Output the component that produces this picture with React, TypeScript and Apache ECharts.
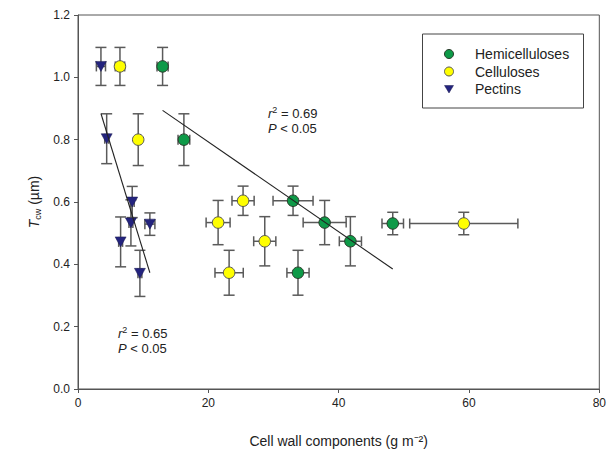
import { useEffect, useRef } from 'react';
import * as echarts from 'echarts';

const seriesNames = ['Hemicelluloses', 'Celluloses', 'Pectins'];
const seriesColors = ['#0e9a48', '#ffff00', '#23237e'];
const seriesBorders = ['#2a3a2a', '#555555', '#1a1a50'];

const hemiX = [12.98, 16.25, 33.0, 37.85, 41.8, 33.76, 48.3];
const hemiY = [1.035, 0.8, 0.604, 0.534, 0.474, 0.373, 0.531];
const hemiXErr = [0.85, 0.9, 3.07, 3.3, 1.7, 1.7, 1.65];
const hemiYErr = [0.061, 0.083, 0.047, 0.071, 0.079, 0.072, 0.036];

const celluX = [6.44, 9.24, 25.33, 21.5, 28.66, 23.19, 59.2];
const celluY = [1.035, 0.8, 0.604, 0.534, 0.474, 0.373, 0.531];
const celluXErr = [0.72, 0.3, 1.7, 1.84, 1.7, 2.17, 8.3];
const celluYErr = [0.061, 0.083, 0.047, 0.071, 0.079, 0.072, 0.036];

const pectX = [3.52, 4.4, 8.32, 8.12, 11.03, 6.54, 9.5];
const pectY = [1.035, 0.803, 0.6, 0.533, 0.529, 0.472, 0.371];
const pectXErr = [0.7, 0.3, 0.3, 0.3, 0.77, 0.3, 0.3];
const pectYErr = [0.061, 0.08, 0.05, 0.074, 0.036, 0.08, 0.074];

const hemiFitX = [12.98, 48.3];
const hemiFitY = [0.894, 0.385];
const pectFitX = [3.52, 11.03];
const pectFitY = [0.884, 0.373];

const hemiStats = ['0.69', '0.05'];
const pectStats = ['0.65', '0.05'];

const xTicks = { min: 0, max: 80, interval: 20 };
const yTicks = { min: 0, max: 1.2, interval: 0.2 };

const FONT = 'Liberation Sans, Arial, sans-serif';

const zip = (a: number[], b: number[]) => a.map((v, i) => [v, b[i]]);
const zip4 = (a: number[], b: number[], c: number[], d: number[]) =>
  a.map((v, i) => [v, b[i], c[i], d[i]]);

const errRender = (_params: any, api: any) => {
  const x = api.value(0);
  const y = api.value(1);
  const ex = api.value(2);
  const ey = api.value(3);
  const c = api.coord([x, y]);
  const top = api.coord([x, y + ey]);
  const bot = api.coord([x, y - ey]);
  const left = api.coord([x - ex, y]);
  const right = api.coord([x + ex, y]);
  const cw = 5.5;
  const ch = 5;
  const style = { stroke: '#5a5a5a', lineWidth: 1.5 };
  return {
    type: 'group',
    children: [
      { type: 'line', shape: { x1: c[0], y1: top[1], x2: c[0], y2: bot[1] }, style },
      { type: 'line', shape: { x1: c[0] - cw, y1: top[1], x2: c[0] + cw, y2: top[1] }, style },
      { type: 'line', shape: { x1: c[0] - cw, y1: bot[1], x2: c[0] + cw, y2: bot[1] }, style },
      { type: 'line', shape: { x1: left[0], y1: c[1], x2: right[0], y2: c[1] }, style },
      { type: 'line', shape: { x1: left[0], y1: c[1] - ch, x2: left[0], y2: c[1] + ch }, style },
      { type: 'line', shape: { x1: right[0], y1: c[1] - ch, x2: right[0], y2: c[1] + ch }, style },
    ],
  };
};

const errSeries = (name: string, data: number[][]) => ({
  type: 'custom',
  name: name + ' err',
  renderItem: errRender,
  data,
  encode: { x: 0, y: 1 },
  z: 1,
  silent: true,
});

const richAnno = {
  i: { fontStyle: 'italic', fontSize: 13, fontFamily: FONT, color: '#222' },
  sup: { fontSize: 9, fontFamily: FONT, color: '#222', padding: [0, 0, 7, 0] },
};

const annoText = (x: number, y: number, text: string) => ({
  type: 'text',
  x,
  y,
  style: {
    text,
    fontSize: 13,
    fontFamily: FONT,
    fill: '#222',
    verticalAlign: 'middle',
    rich: richAnno,
  },
});

const legendRowY = [54, 71.5, 89];

export default function App() {
  const ref = useRef<HTMLDivElement>(null);
  useEffect(() => {
    document.body.style.margin = '0';
    const chart = echarts.init(ref.current!, null, { renderer: 'svg' });
    const lx = 449;
    const legendGraphics: any[] = [
      {
        type: 'rect',
        shape: { x: 422.5, y: 34, width: 161, height: 74 },
        style: { fill: '#fff', stroke: '#444', lineWidth: 1 },
        z: 10,
      },
      {
        type: 'circle',
        shape: { cx: lx, cy: legendRowY[0], r: 4.5 },
        style: { fill: seriesColors[0], stroke: seriesBorders[0], lineWidth: 1 },
        z: 11,
      },
      {
        type: 'circle',
        shape: { cx: lx, cy: legendRowY[1], r: 4.5 },
        style: { fill: seriesColors[1], stroke: seriesBorders[1], lineWidth: 1 },
        z: 11,
      },
      {
        type: 'polygon',
        shape: {
          points: [
            [lx - 4.5, legendRowY[2] - 3.5],
            [lx + 4.5, legendRowY[2] - 3.5],
            [lx, legendRowY[2] + 4],
          ],
        },
        style: { fill: seriesColors[2], stroke: seriesBorders[2], lineWidth: 0.5 },
        z: 11,
      },
      ...seriesNames.map((n, i) => ({
        type: 'text',
        x: 475,
        y: legendRowY[i],
        style: {
          text: n,
          fontSize: 14,
          fontFamily: FONT,
          fill: '#222',
          verticalAlign: 'middle',
        },
        z: 11,
      })),
    ];
    const option: any = {
      animation: false,
      backgroundColor: '#ffffff',
      textStyle: { fontFamily: FONT },
      grid: {
        left: 78,
        right: 9,
        top: 15,
        bottom: 64,
        show: true,
        borderColor: '#555',
        borderWidth: 1,
      },
      xAxis: {
        type: 'value',
        ...xTicks,
        name: 'Cell wall components (g m⁻²)',
        nameLocation: 'middle',
        nameGap: 45,
        nameTextStyle: { fontSize: 14, color: '#222', fontFamily: FONT },
        axisLine: { show: true, lineStyle: { color: '#555', width: 1 } },
        axisTick: { show: true, inside: false, length: 4, lineStyle: { color: '#555' } },
        axisLabel: { fontSize: 12, color: '#222', margin: 8, fontFamily: FONT },
        splitLine: { show: false },
      },
      yAxis: {
        type: 'value',
        ...yTicks,
        name: '{i|T}{s|cw} (µm)',
        nameLocation: 'middle',
        nameGap: 36,
        nameTextStyle: {
          fontSize: 14,
          color: '#222',
          fontFamily: FONT,
          rich: {
            i: { fontStyle: 'italic', fontSize: 14, color: '#222', fontFamily: FONT },
            s: { fontSize: 9, color: '#222', fontFamily: FONT, padding: [7, 0, 0, 0] },
          },
        },
        axisLine: { show: true, lineStyle: { color: '#555', width: 1 } },
        axisTick: { show: true, inside: false, length: 4, lineStyle: { color: '#555' } },
        axisLabel: {
          fontSize: 12,
          color: '#222',
          margin: 8,
          fontFamily: FONT,
          formatter: (v: number) => v.toFixed(1),
        },
        splitLine: { show: false },
      },
      graphic: [
        annoText(268, 113, `{i|r}{sup|2} = ${hemiStats[0]}`),
        annoText(268, 128, `{i|P} < ${hemiStats[1]}`),
        annoText(118, 333, `{i|r}{sup|2} = ${pectStats[0]}`),
        annoText(118, 348, `{i|P} < ${pectStats[1]}`),
        ...legendGraphics,
      ],
      series: [
        errSeries(seriesNames[0], zip4(hemiX, hemiY, hemiXErr, hemiYErr)),
        errSeries(seriesNames[1], zip4(celluX, celluY, celluXErr, celluYErr)),
        errSeries(seriesNames[2], zip4(pectX, pectY, pectXErr, pectYErr)),
        {
          type: 'scatter',
          name: seriesNames[0],
          data: zip(hemiX, hemiY),
          symbol: 'circle',
          symbolSize: 11.5,
          itemStyle: { color: seriesColors[0], borderColor: seriesBorders[0], borderWidth: 1, opacity: 1 },
          z: 3,
        },
        {
          type: 'scatter',
          name: seriesNames[1],
          data: zip(celluX, celluY),
          symbol: 'circle',
          symbolSize: 11.5,
          itemStyle: { color: seriesColors[1], borderColor: seriesBorders[1], borderWidth: 1, opacity: 1 },
          z: 3,
        },
        {
          type: 'scatter',
          name: seriesNames[2],
          data: zip(pectX, pectY),
          symbol: 'triangle',
          symbolRotate: 180,
          symbolSize: [11, 10],
          itemStyle: { color: seriesColors[2], borderColor: seriesBorders[2], borderWidth: 0.5, opacity: 1 },
          z: 3,
        },
        {
          type: 'line',
          name: 'hemi fit',
          data: zip(hemiFitX, hemiFitY),
          symbol: 'none',
          lineStyle: { color: '#222', width: 1.1 },
          z: 4,
          silent: true,
        },
        {
          type: 'line',
          name: 'pect fit',
          data: zip(pectFitX, pectFitY),
          symbol: 'none',
          lineStyle: { color: '#222', width: 1.1 },
          z: 4,
          silent: true,
        },
      ],
    };
    chart.setOption(option);
    return () => chart.dispose();
  }, []);
  return <div ref={ref} style={{ width: 609, height: 453 }} />;
}
